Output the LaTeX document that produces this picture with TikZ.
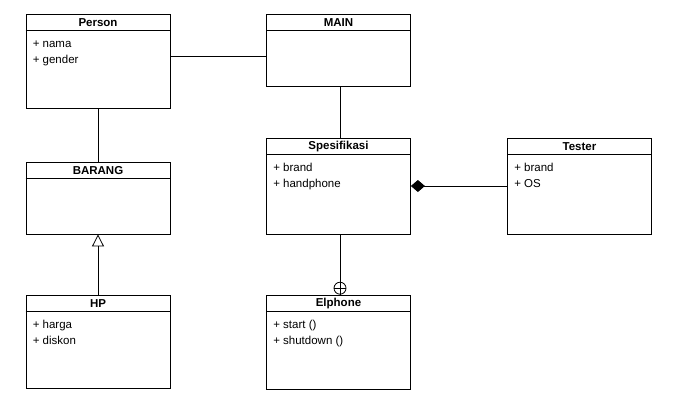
\documentclass[tikz,border=0pt]{standalone}
\usepackage{fontspec}
\setmainfont{Liberation Sans}
\usetikzlibrary{arrows.meta, calc}

\tikzset{
    kelas/.style={draw, thick, minimum width=144pt, inner sep=0pt},
    judul/.style={font=\fontsize{11.5}{13}\selectfont\bfseries, inner sep=0pt},
    atribut/.style={font=\fontsize{11.5}{13}\selectfont, anchor=west, inner sep=0pt, text height=8.5pt, text depth=2.5pt},
    garis/.style={thick}
}

\begin{document}
\begin{tikzpicture}[x=1pt,y=-1pt]
        \useasboundingbox (0,0) rectangle (679,405);

        % kotak kelas
        \node[kelas, minimum height=94pt] (person) at (98,61) {};
        \node[kelas, minimum height=72pt] (main) at (338.5,50) {};
        \node[kelas, minimum height=72pt] (barang) at (98,198) {};
        \node[kelas, minimum height=96pt] (spek) at (338.5,186) {};
        \node[kelas, minimum height=96pt] (tester) at (579.5,186) {};
        \node[kelas, minimum height=93pt] (hp) at (98,341.5) {};
        \node[kelas, minimum height=94pt] (elphone) at (338.5,342) {};

        % judul dan garis header
        \foreach \k/\t in {person/Person, main/MAIN, barang/BARANG, spek/Spesifikasi, tester/Tester, hp/HP, elphone/Elphone} {
            \draw[garis] ([yshift=-17pt]\k.north west) -- ([yshift=-17pt]\k.north east);
            \node[judul] (\k-judul) at ([yshift=-8.5pt]\k.north) {\t};
        }

        % atribut
        \node[atribut] (person-a1) at ([shift={(7pt,-30.5pt)}]person.north west) {+ nama};
        \node[atribut] (person-a2) at ([shift={(7pt,-46.5pt)}]person.north west) {+ gender};
        \node[atribut] (spek-a1) at ([shift={(7pt,-30.5pt)}]spek.north west) {+ brand};
        \node[atribut] (spek-a2) at ([shift={(7pt,-46.5pt)}]spek.north west) {+ handphone};
        \node[atribut] (tester-a1) at ([shift={(7pt,-30.5pt)}]tester.north west) {+ brand};
        \node[atribut] (tester-a2) at ([shift={(7pt,-46.5pt)}]tester.north west) {+ OS};
        \node[atribut] (hp-a1) at ([shift={(7pt,-30.5pt)}]hp.north west) {+ harga};
        \node[atribut] (hp-a2) at ([shift={(7pt,-46.5pt)}]hp.north west) {+ diskon};
        \node[atribut] (elphone-a1) at ([shift={(7pt,-30.5pt)}]elphone.north west) {+ start ()};
        \node[atribut] (elphone-a2) at ([shift={(7pt,-46.5pt)}]elphone.north west) {+ shutdown ()};

        % relasi
        \draw[garis] ([yshift=5pt]person.east) coordinate (pm) -- (pm -| main.west);
        \draw[garis] (person.south) -- (barang.north);
        \draw[garis] ([xshift=1.5pt]main.south) -- ([xshift=1.5pt]spek.north);
        \draw[garis, -{Triangle[open, length=12pt, width=12pt]}] (hp.north) -- (barang.south);
        \draw[garis, {Diamond[length=14pt, width=12pt]}-] (spek.east) -- (tester.west);

        \node[circle, draw, thick, minimum size=12pt, inner sep=0pt, anchor=south] (lingkar) at ([xshift=1.5pt]elphone.north) {};
        \draw[garis] (lingkar.north) -- (lingkar.south);
        \draw[garis] (lingkar.west) -- (lingkar.east);
        \draw[garis] ([xshift=1.5pt]spek.south) -- (lingkar.north);
\end{tikzpicture}
\end{document}
